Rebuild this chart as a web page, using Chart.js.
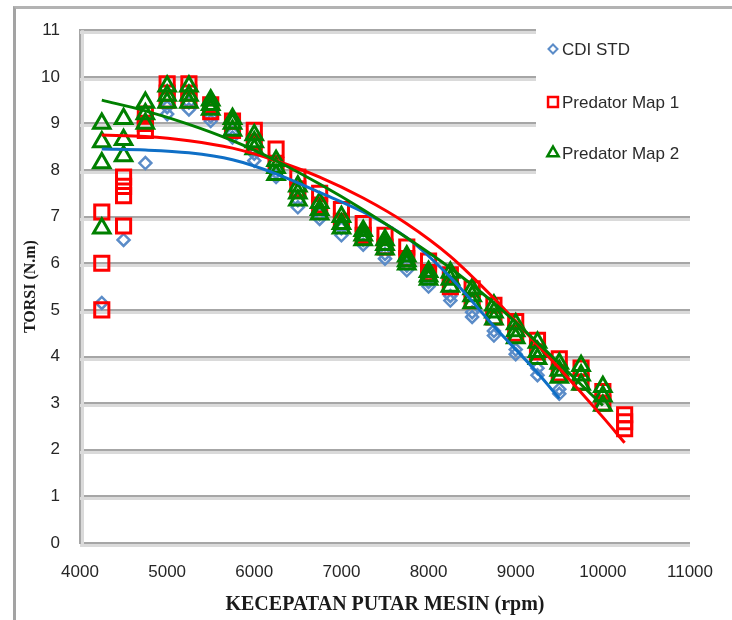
<!DOCTYPE html>
<html>
<head>
<meta charset="utf-8">
<script src="https://cdn.jsdelivr.net/npm/chart.js@4.4.1/dist/chart.umd.min.js"></script>
<style>
  html, body { margin: 0; padding: 0; background: #fff; }
  #wrap { position: relative; width: 732px; height: 620px; }
  #frame { position: absolute; left: 13px; top: 6px; right: 0; bottom: 0;
           border-left: 3px solid #a3a3a3; border-top: 3px solid #b3b3b3; pointer-events: none; }
  #torsiChart { position: absolute; left: 0; top: 0; }
</style>
</head>
<body>
<div id="wrap">
  <div id="frame"></div>
  <canvas id="torsiChart" width="732" height="620"></canvas>
</div>
<script>
// ========== TORSI vs KECEPATAN PUTAR MESIN ==========
var seriesNames = ['CDI STD', 'Predator Map 1', 'Predator Map 2'];
var xTicks = [4000, 5000, 6000, 7000, 8000, 9000, 10000, 11000];
var yTicks = [0, 1, 2, 3, 4, 5, 6, 7, 8, 9, 10, 11];

// measured rpm points (several runs stacked per rpm)
var rpm = [4250, 4500, 4750, 5000, 5250, 5500, 5750, 6000, 6250, 6500, 6750, 7000, 7250,
           7500, 7750, 8000, 8250, 8500, 8750, 9000, 9250, 9500, 9750, 10000, 10250];

var cdiStd = [[5.15], [6.5], [8.15], [9.2, 9.35], [9.3, 9.45], [9.05, 9.15], [8.7, 8.8],
              [8.2, 8.35], [7.85, 7.95], [7.2, 7.35], [6.95, 7.05], [6.6, 6.75], [6.4, 6.5],
              [6.1, 6.2], [5.85, 5.95], [5.5, 5.6], [5.2, 5.3], [4.85, 4.95], [4.45, 4.55],
              [4.05, 4.15], [3.6, 3.75], [3.2, 3.3], [], [], []];

var predatorMap1 = [[7.1, 6.0, 5.0], [7.85, 7.65, 7.45, 6.8], [9.2, 9.0, 8.85], [9.85, 9.65, 9.5],
                    [9.85, 9.65, 9.5], [9.4, 9.25], [9.05, 8.85], [8.85, 8.6], [8.45, 8.1],
                    [7.85, 7.6], [7.5, 7.25], [7.15, 6.9], [6.85, 6.6], [6.6, 6.35], [6.35, 6.1],
                    [6.05, 5.8], [5.75, 5.5], [5.45, 5.2], [5.1, 4.85], [4.75, 4.5], [4.35, 4.1],
                    [3.95, 3.65], [3.75, 3.45], [3.25, 3.0], [2.75, 2.6, 2.45]];

var predatorMap2 = [[9.0, 8.6, 8.15, 6.75], [9.1, 8.65, 8.3], [9.45, 9.2, 9.0], [9.8, 9.6, 9.45],
                    [9.8, 9.6, 9.45], [9.5, 9.4, 9.3], [9.1, 9.0, 8.85], [8.75, 8.6, 8.45],
                    [8.2, 8.05, 7.9], [7.65, 7.5, 7.35], [7.3, 7.15, 7.05], [7.0, 6.85, 6.75],
                    [6.7, 6.6, 6.5], [6.5, 6.4, 6.3], [6.15, 6.05, 5.98], [5.82, 5.72, 5.65],
                    [5.8, 5.65, 5.5], [5.45, 5.3, 5.15], [5.1, 4.95, 4.8], [4.7, 4.55, 4.4],
                    [4.3, 4.1, 3.95], [3.85, 3.7, 3.55], [3.8, 3.6, 3.4], [3.35, 3.15, 2.95], []];

// trendlines
var trendRpm  = [4250, 4750, 5250, 5750, 6250, 6750, 7250, 7750, 8250, 8750, 9250, 9500, 10000, 10250];
var trendCdi  = [8.45, 8.43, 8.37, 8.22, 7.92, 7.52, 7.1, 6.55, 5.7, 4.65, 3.65, 3.1, null, null];
var trendMap1 = [8.75, 8.72, 8.63, 8.47, 8.2, 7.85, 7.4, 6.85, 6.15, 5.25, 4.25, 3.75, 2.7, 2.15];
var trendMap2 = [9.5, 9.27, 8.98, 8.63, 8.2, 7.7, 7.15, 6.55, 5.9, 5.15, 4.3, 3.85, 2.95, null];

var BLUE = '#5b8cc8', BLUE_LINE = '#0f6fc6', RED = '#ff0000', GREEN = '#008000';

function points(list) {
    var out = [];
    rpm.forEach(function(r, i) {
        list[i].forEach(function(v) { out.push({ x: r, y: v }); });
    });
    return out;
}
function trend(vals) {
    return trendRpm.map(function(r, i) { return { x: r, y: vals[i] }; });
}

var markerStyle = [
    { style: 'rectRot', color: BLUE, radius: 6, width: 2.5 },
    { style: 'rect', color: RED, radius: 10, width: 3 },
    { style: 'triangle', color: GREEN, radius: 9.5, width: 3 }
];

// gray grid with light shadow underneath, like the original
var gridShadow = {
    id: 'gridShadow',
    beforeDatasetsDraw: function(chart) {
        var ctx = chart.ctx, y = chart.scales.y, area = chart.chartArea;
        ctx.save();
        ctx.strokeStyle = '#dadada';
        ctx.lineWidth = 3;
        y.ticks.forEach(function(t) {
            var py = Math.round(y.getPixelForValue(t.value)) + 2.5;
            ctx.beginPath(); ctx.moveTo(area.left, py); ctx.lineTo(area.right, py); ctx.stroke();
        });
        ctx.beginPath();
        ctx.moveTo(area.left + 2.5, area.top); ctx.lineTo(area.left + 2.5, area.bottom + 2);
        ctx.stroke();
        ctx.restore();
    }
};

var legendBox = {
    id: 'legendBox',
    afterDraw: function(chart) {
        var ctx = chart.ctx;
        ctx.save();
        ctx.fillStyle = '#fff';
        ctx.fillRect(536, 18, 170, 182);
        ctx.font = '17px "Liberation Sans", Arial, sans-serif';
        ctx.textBaseline = 'middle';
        var rows = [49, 102, 153];
        var legendRadius = [4.5, 7, 6.5];
        seriesNames.forEach(function(name, i) {
            var m = markerStyle[i];
            ctx.strokeStyle = m.color;
            ctx.fillStyle = '#fff';
            ctx.lineWidth = i === 0 ? 2 : 2.5;
            Chart.helpers.drawPoint(ctx, { pointStyle: m.style, radius: legendRadius[i], borderWidth: ctx.lineWidth }, 553, rows[i]);
            ctx.fillStyle = '#2b2b2b';
            ctx.fillText(name, 562, rows[i] + 1);
        });
        ctx.restore();
    }
};

var scatterSets = [cdiStd, predatorMap1, predatorMap2].map(function(list, i) {
    var m = markerStyle[i];
    return {
        type: 'scatter',
        label: seriesNames[i],
        data: points(list),
        pointStyle: m.style,
        pointRadius: m.radius,
        pointBorderWidth: m.width,
        pointBorderColor: m.color,
        pointBackgroundColor: 'rgba(255,255,255,0)',
        showLine: false,
        order: 6 - i
    };
});

var trendSets = [[trendCdi, BLUE_LINE], [trendMap1, RED], [trendMap2, GREEN]].map(function(t, i) {
    return {
        type: 'line',
        label: seriesNames[i] + ' trend',
        data: trend(t[0]),
        borderColor: t[1],
        borderWidth: 3,
        pointRadius: 0,
        fill: false,
        tension: 0.4,
        cubicInterpolationMode: 'monotone',
        order: 3 - i
    };
});

new Chart(document.getElementById('torsiChart').getContext('2d'), {
    type: 'scatter',
    data: { datasets: scatterSets.concat(trendSets) },
    options: {
        responsive: false,
        animation: false,
        devicePixelRatio: 1,
        layout: { padding: { left: 0, top: 26, right: 40, bottom: 0 } },
        plugins: { legend: { display: false }, tooltip: { enabled: false } },
        scales: {
            x: {
                type: 'linear', min: 4000, max: 11000,
                afterBuildTicks: function(s) { s.ticks = xTicks.map(function(v) { return { value: v }; }); },
                afterFit: function(s) { s.height = 77; },
                grid: { display: false, drawTicks: false },
                border: { display: false },
                ticks: { padding: 19, color: '#262626', font: { family: '"Liberation Sans", Arial, sans-serif', size: 17 },
                         callback: function(v) { return String(v); } },
                title: { display: true, text: 'KECEPATAN PUTAR MESIN (rpm)', color: '#1a1a1a',
                         font: { family: '"Liberation Serif", "Times New Roman", serif', size: 20, weight: 'bold' },
                         padding: { top: 0, bottom: 3 } }
            },
            y: {
                type: 'linear', min: 0, max: 11,
                afterBuildTicks: function(s) { s.ticks = yTicks.map(function(v) { return { value: v }; }); },
                afterFit: function(s) { s.width = 80; },
                grid: { color: '#a6a6a6', lineWidth: 2, drawTicks: false },
                border: { display: true, color: '#a6a6a6', width: 2 },
                ticks: { padding: 20, color: '#262626', font: { family: '"Liberation Sans", Arial, sans-serif', size: 17 } },
                title: { display: true, text: 'TORSI (N.m)', color: '#1a1a1a',
                         font: { family: '"Liberation Serif", "Times New Roman", serif', size: 16, weight: 'bold' },
                         padding: { top: 21, bottom: 0 } }
            }
        }
    },
    plugins: [gridShadow, legendBox]
});
</script>
</body>
</html>
